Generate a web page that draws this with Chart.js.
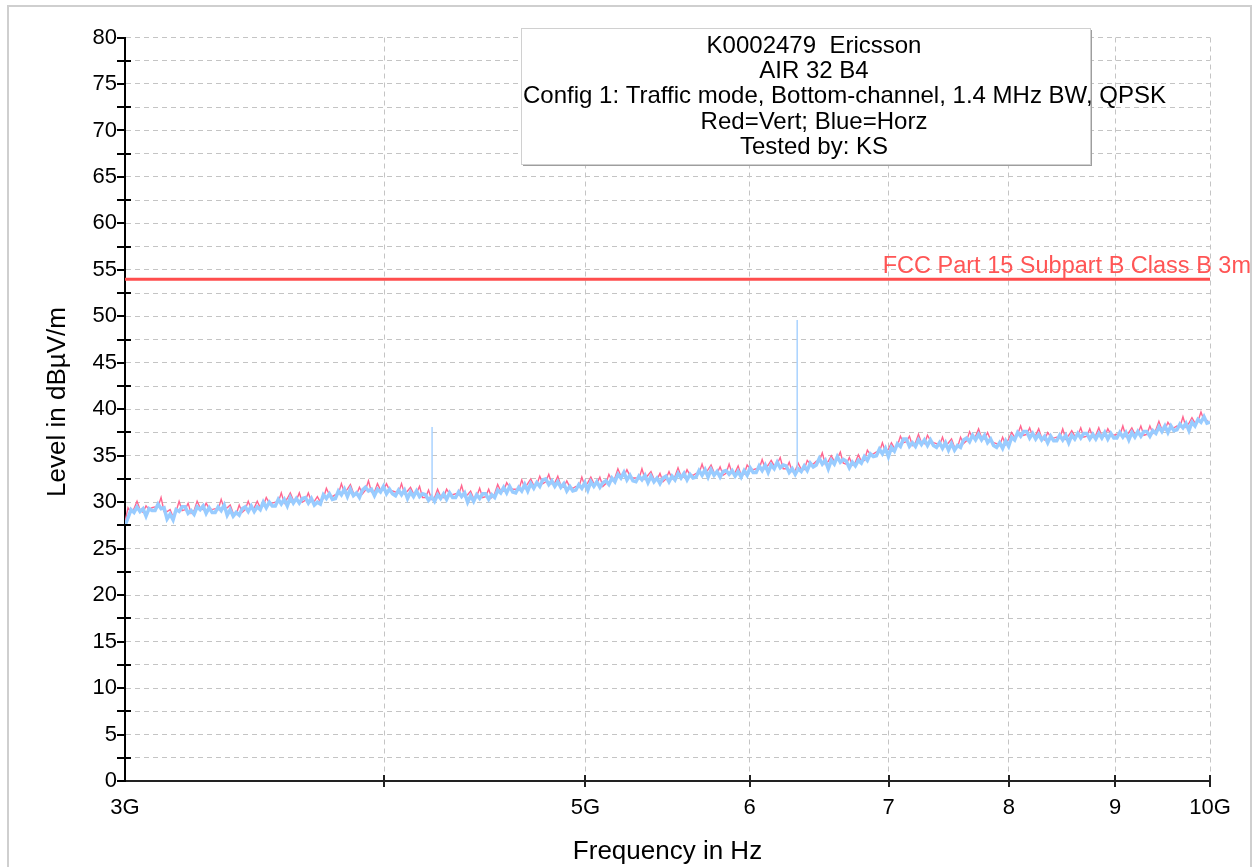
<!DOCTYPE html>
<html>
<head>
<meta charset="utf-8">
<script src="https://cdn.jsdelivr.net/npm/chart.js@4.4.0/dist/chart.umd.min.js"></script>
<style>
  html, body { margin: 0; padding: 0; background: #fff; overflow: hidden; }
  #wrap { position: relative; width: 1256px; height: 867px; }
  canvas { display: block; }
</style>
</head>
<body>
<div id="wrap"><canvas id="c" width="1256" height="867"></canvas></div>
<script>
// ---- chart content ----
const titleLines = [
  'K0002479  Ericsson',
  'AIR 32 B4',
  'Config 1: Traffic mode, Bottom-channel, 1.4 MHz BW, QPSK',
  'Red=Vert; Blue=Horz',
  'Tested by: KS'
];
const xAxisTitle = 'Frequency in Hz';
const yAxisTitle = 'Level in dBµV/m';

// x axis ticks (GHz) and their printed labels
const xTickGHz = [3, 4, 5, 6, 7, 8, 9, 10];
const xTickLabels = ['3G', '', '5G', '6', '7', '8', '9', '10G'];

// y axis: ticks every 2.5 dB, labels every 5 dB
const yMin = 0, yMax = 80, yStep = 2.5, yLabelEvery = 5;

// sweep span (log-spaced sweep points, GHz)
const sweepStartGHz = 3;
const sweepStopGHz = 10;

// vertical polarisation trace (dBµV/m)
const vertLevels = [
  27.9, 29.4, 28.9, 29.3, 30.1, 29.2, 28.9, 29.6, 29.2, 29.4,
  29.5, 29.5, 30.5, 29.0, 29.0, 29.2, 28.4, 29.0, 30.1, 29.1,
  29.2, 29.9, 28.8, 29.1, 30.1, 29.4, 29.2, 29.9, 29.3, 29.2,
  29.3, 29.2, 30.3, 29.3, 29.4, 29.7, 28.8, 28.7, 29.7, 28.9,
  29.2, 30.1, 29.3, 29.4, 30.1, 29.4, 29.6, 30.5, 29.9, 29.9,
  30.0, 30.0, 31.0, 29.9, 30.4, 31.0, 30.2, 30.2, 31.0, 30.0,
  30.2, 31.0, 30.1, 30.1, 30.6, 30.0, 30.4, 31.5, 30.8, 30.6,
  30.8, 30.9, 32.0, 31.0, 31.4, 31.9, 31.0, 30.8, 31.6, 30.9,
  31.3, 32.3, 31.1, 31.1, 32.0, 31.3, 31.3, 32.0, 31.3, 31.2,
  31.1, 31.0, 32.0, 30.9, 31.2, 31.6, 30.9, 31.0, 31.7, 30.5,
  30.5, 31.3, 30.3, 30.5, 31.4, 30.6, 30.5, 31.4, 30.9, 30.8,
  30.9, 30.8, 31.8, 30.6, 30.8, 31.2, 30.4, 30.6, 31.5, 30.5,
  30.6, 31.4, 30.5, 30.9, 31.9, 31.2, 31.2, 32.1, 31.6, 31.4,
  31.4, 31.3, 32.4, 31.5, 32.0, 32.5, 31.8, 31.9, 32.8, 32.0,
  32.2, 33.0, 32.0, 32.1, 32.8, 31.8, 31.6, 32.3, 31.6, 31.5,
  31.7, 31.6, 32.7, 31.7, 32.1, 32.7, 32.0, 32.0, 32.7, 31.7,
  32.0, 33.0, 32.3, 32.6, 33.6, 32.8, 32.8, 33.5, 32.8, 32.6,
  32.6, 32.5, 33.6, 32.5, 32.9, 33.3, 32.5, 32.4, 33.1, 32.2,
  32.5, 33.3, 32.5, 32.8, 33.7, 32.8, 32.7, 33.5, 32.9, 32.9,
  33.1, 33.1, 34.1, 33.1, 33.5, 34.0, 33.2, 33.1, 33.8, 32.9,
  33.1, 34.1, 33.1, 33.2, 33.9, 32.9, 33.0, 34.0, 33.6, 33.5,
  33.6, 33.6, 34.6, 33.6, 34.0, 34.5, 33.9, 34.1, 34.8, 33.6,
  33.6, 34.3, 33.3, 33.4, 34.2, 33.5, 33.5, 34.5, 34.1, 34.1,
  34.4, 34.4, 35.3, 34.1, 34.4, 35.0, 34.4, 34.7, 35.4, 34.2,
  34.1, 34.8, 34.0, 34.3, 35.1, 34.4, 34.5, 35.6, 35.1, 35.2,
  35.4, 35.4, 36.4, 35.4, 35.7, 36.4, 35.8, 36.1, 37.1, 36.4,
  36.5, 37.1, 36.1, 36.4, 37.3, 36.4, 36.3, 37.2, 36.6, 36.4,
  36.3, 36.1, 37.0, 36.0, 36.4, 36.8, 35.9, 35.9, 37.0, 36.3,
  36.6, 37.6, 36.9, 37.1, 37.9, 36.9, 36.8, 37.5, 36.7, 36.4,
  36.3, 36.1, 37.0, 36.2, 36.8, 37.5, 37.0, 37.3, 38.2, 37.2,
  37.3, 38.0, 37.1, 37.2, 37.9, 36.9, 36.7, 37.5, 37.0, 36.9,
  37.0, 36.9, 37.9, 36.8, 37.2, 37.7, 37.1, 37.2, 38.0, 37.0,
  37.1, 37.9, 37.0, 37.2, 38.0, 37.1, 37.1, 37.9, 37.3, 37.2,
  37.3, 37.2, 38.2, 37.1, 37.5, 38.0, 37.3, 37.4, 38.2, 37.2,
  37.3, 38.2, 37.4, 37.8, 38.7, 37.8, 37.8, 38.6, 38.1, 38.0,
  38.2, 38.1, 39.2, 38.1, 38.5, 39.1, 38.5, 38.7, 39.7, 38.8, 38.8, 38.5
];

// horizontal polarisation trace (dBµV/m)
const horzLevels = [
  27.5, 28.3, 29.2, 28.9, 29.5, 29.0, 29.3, 28.5, 29.3, 29.1,
  29.1, 29.8, 29.3, 29.4, 28.2, 28.7, 28.1, 29.2, 29.0, 29.5,
  29.5, 28.8, 29.1, 28.7, 29.5, 29.2, 29.6, 28.8, 29.4, 28.9,
  28.9, 29.5, 29.1, 29.7, 28.6, 29.2, 28.5, 28.9, 28.6, 29.3,
  29.5, 29.0, 29.6, 29.0, 29.5, 29.2, 30.0, 29.4, 30.0, 29.6,
  29.6, 30.3, 29.8, 30.3, 29.6, 30.5, 29.9, 30.4, 29.9, 30.4,
  30.5, 29.9, 30.4, 29.7, 30.0, 29.8, 30.8, 30.4, 30.9, 30.3,
  30.4, 31.2, 30.8, 31.4, 30.6, 31.4, 30.7, 31.0, 30.5, 31.3,
  31.6, 31.2, 31.4, 30.7, 31.4, 31.1, 31.7, 30.9, 31.4, 30.9,
  30.7, 31.3, 30.8, 31.3, 30.4, 31.1, 30.6, 31.2, 30.6, 30.9,
  30.8, 30.2, 30.6, 30.1, 30.8, 30.4, 30.9, 30.3, 31.0, 30.5,
  30.5, 31.1, 30.6, 31.0, 30.0, 30.7, 30.1, 30.8, 30.4, 30.9,
  30.9, 30.3, 30.8, 30.5, 31.3, 31.0, 31.6, 31.0, 31.7, 31.1,
  31.0, 31.6, 31.2, 31.9, 31.2, 32.0, 31.5, 32.1, 31.7, 32.4,
  32.5, 31.9, 32.3, 31.7, 32.2, 31.6, 32.0, 31.2, 31.7, 31.2,
  31.3, 31.9, 31.5, 32.1, 31.3, 32.2, 31.7, 32.2, 31.6, 32.1,
  32.3, 31.9, 32.6, 32.2, 33.0, 32.6, 33.2, 32.4, 32.9, 32.3,
  32.2, 32.8, 32.4, 32.9, 32.1, 32.8, 32.2, 32.6, 32.0, 32.6,
  32.8, 32.2, 32.8, 32.4, 33.1, 32.6, 33.1, 32.4, 33.0, 32.6,
  32.7, 33.4, 32.9, 33.5, 32.7, 33.5, 32.9, 33.3, 32.7, 33.3,
  33.4, 33.0, 33.4, 32.8, 33.3, 32.7, 33.4, 32.9, 33.7, 33.2,
  33.2, 33.9, 33.4, 34.0, 33.2, 34.0, 33.6, 34.3, 33.7, 34.0,
  33.9, 33.2, 33.6, 33.0, 33.6, 33.3, 33.9, 33.4, 34.2, 33.8,
  34.0, 34.7, 34.1, 34.5, 33.6, 34.5, 34.1, 34.9, 34.3, 34.6,
  34.4, 33.7, 34.3, 33.9, 34.5, 34.2, 34.9, 34.5, 35.2, 34.9,
  35.0, 35.7, 35.2, 35.8, 34.9, 35.9, 35.5, 36.3, 36.0, 36.8,
  36.8, 36.0, 36.4, 36.0, 36.7, 36.2, 36.7, 36.1, 36.7, 36.1,
  35.9, 36.4, 35.8, 36.4, 35.6, 36.3, 35.6, 36.1, 35.9, 36.7,
  36.9, 36.5, 37.2, 36.7, 37.3, 36.7, 37.2, 36.4, 36.8, 36.1,
  35.9, 36.4, 35.8, 36.6, 36.0, 37.0, 36.7, 37.5, 37.1, 37.6,
  37.6, 36.9, 37.4, 36.8, 37.3, 36.7, 37.1, 36.4, 37.1, 36.6,
  36.6, 37.2, 36.7, 37.2, 36.4, 37.2, 36.8, 37.4, 36.9, 37.4,
  37.4, 36.8, 37.3, 36.8, 37.4, 36.9, 37.5, 36.8, 37.4, 36.9,
  36.9, 37.5, 37.0, 37.5, 36.7, 37.5, 37.0, 37.6, 37.1, 37.6,
  37.6, 37.1, 37.7, 37.4, 38.1, 37.6, 38.2, 37.5, 38.2, 37.7,
  37.8, 38.4, 38.0, 38.5, 37.7, 38.6, 38.2, 38.9, 38.6, 39.2, 38.5, 38.6
];

// narrow spurs on the horizontal trace
const spurGHz = [4.218, 6.325];
const spurBase = [30.4, 33.3];
const spurPeak = [38.1, 49.6];

// limit line
const limitLevel = 54;
const limitLabel = 'FCC Part 15 Subpart B Class B 3m';

// ---- styling ----
const FONT = "'Liberation Sans', Arial, sans-serif";
const VERT_COLOR = '#ff6690';
const HORZ_COLOR = '#99ccff';
const SPUR_COLOR = '#a9d3ff';
const LIMIT_COLOR = '#ff4d4d';
const GRID_COLOR = '#c4c4c4';
const GRID_DASH = [5, 4];

// ---- build datasets ----
const GHZ = 1e9;
function sweepFreq(i, n) {
  return sweepStartGHz * Math.pow(sweepStopGHz / sweepStartGHz, i / (n - 1)) * GHZ;
}
const vertData = vertLevels.map((v, i) => ({ x: sweepFreq(i, vertLevels.length), y: v }));
const horzData = horzLevels.map((v, i) => ({ x: sweepFreq(i, horzLevels.length), y: v }));
const spurData = [];
spurGHz.forEach((f, i) => {
  spurData.push({ x: f * GHZ, y: spurBase[i] });
  spurData.push({ x: f * GHZ, y: spurPeak[i] });
  spurData.push({ x: f * GHZ, y: null });
});
const limitData = [
  { x: xTickGHz[0] * GHZ, y: limitLevel },
  { x: xTickGHz[xTickGHz.length - 1] * GHZ, y: limitLevel }
];

// ---- frame, tick marks, axis title, limit label and header box ----
const decor = {
  id: 'decor',
  beforeDraw(chart) {
    const ctx = chart.ctx;
    ctx.save();
    ctx.fillStyle = '#fff';
    ctx.fillRect(0, 0, chart.width, chart.height);
    ctx.strokeStyle = '#cfcfcf';
    ctx.lineWidth = 2;
    ctx.strokeRect(8, 6, 1243, 900);
    ctx.restore();
  },
  afterDraw(chart) {
    const { ctx, chartArea: ca, scales: { x, y } } = chart;
    ctx.save();

    // y tick marks: major to the left, minor across the axis
    ctx.strokeStyle = '#000';
    ctx.lineWidth = 2;
    for (const t of y.ticks) {
      const py = Math.round(y.getPixelForValue(t.value));
      const major = Math.abs(t.value % yLabelEvery) < 1e-6;
      ctx.beginPath();
      ctx.moveTo(ca.left - 8, py);
      ctx.lineTo(major ? ca.left : ca.left + 6, py);
      ctx.stroke();
    }
    // x tick marks across the axis
    ctx.strokeStyle = '#222';
    for (const t of x.ticks) {
      if (t.value <= xTickGHz[0] * GHZ) continue;
      const px = Math.round(x.getPixelForValue(t.value));
      ctx.beginPath();
      ctx.moveTo(px, ca.bottom - 6);
      ctx.lineTo(px, ca.bottom + 6);
      ctx.stroke();
    }

    // y axis title
    ctx.save();
    ctx.translate(58, 402);
    ctx.rotate(-Math.PI / 2);
    ctx.font = '26px ' + FONT;
    ctx.fillStyle = '#000';
    ctx.textAlign = 'center';
    ctx.textBaseline = 'middle';
    ctx.fillText(yAxisTitle, 0, 0);
    ctx.restore();

    // limit label
    const ly = y.getPixelForValue(limitLevel);
    ctx.font = '23.5px ' + FONT;
    ctx.fillStyle = '#ff5555';
    ctx.textAlign = 'right';
    ctx.textBaseline = 'alphabetic';
    ctx.fillText(limitLabel, 1251, ly - 6);

    // header box
    const bx = 521, by = 28, bw = 569, bh = 136;
    ctx.fillStyle = '#fff';
    ctx.fillRect(bx, by, bw, bh);
    ctx.strokeStyle = '#9e9e9e';
    ctx.lineWidth = 2;
    ctx.beginPath();
    ctx.moveTo(bx + 2, by + bh + 1);
    ctx.lineTo(bx + bw + 1, by + bh + 1);
    ctx.lineTo(bx + bw + 1, by + 2);
    ctx.stroke();
    ctx.strokeStyle = '#d0d0d0';
    ctx.lineWidth = 1;
    ctx.strokeRect(bx + 0.5, by + 0.5, bw, bh);

    ctx.fillStyle = '#000';
    ctx.font = '24px ' + FONT;
    ctx.textBaseline = 'middle';
    const cx = 814;
    titleLines.forEach((line, k) => {
      const ty = by + 18 + k * 25.4;
      const w = ctx.measureText(line).width;
      if (w > bw - 4) {
        ctx.textAlign = 'left';
        ctx.fillText(line, bx + 2, ty);
      } else {
        ctx.textAlign = 'center';
        ctx.fillText(line, cx, ty);
      }
    });
    ctx.restore();
  }
};

new Chart(document.getElementById('c'), {
  type: 'line',
  data: {
    datasets: [
      { label: 'Limit', data: limitData, borderColor: LIMIT_COLOR, borderWidth: 3, pointRadius: 0 },
      { label: 'Spurs', data: spurData, borderColor: SPUR_COLOR, borderWidth: 1.5, pointRadius: 0, spanGaps: false },
      { label: 'Horz', data: horzData, borderColor: HORZ_COLOR, borderWidth: 3.5, pointRadius: 0 },
      { label: 'Vert', data: vertData, borderColor: VERT_COLOR, borderWidth: 1.4, pointRadius: 0 }
    ]
  },
  options: {
    responsive: false,
    animation: false,
    events: [],
    layout: { padding: { top: 37.5, right: 46, bottom: 0, left: 0 } },
    elements: { line: { tension: 0, fill: false } },
    plugins: { legend: { display: false }, tooltip: { enabled: false }, title: { display: false } },
    scales: {
      x: {
        type: 'logarithmic',
        min: xTickGHz[0] * GHZ,
        max: xTickGHz[xTickGHz.length - 1] * GHZ,
        afterBuildTicks(scale) {
          scale.ticks = xTickGHz.map(v => ({ value: v * GHZ }));
        },
        afterFit(scale) { scale.height = 86; },
        ticks: {
          autoSkip: false,
          maxRotation: 0,
          padding: 14,
          color: '#000',
          font: { family: FONT, size: 22 },
          callback: (value, index) => xTickLabels[index]
        },
        grid: { color: GRID_COLOR, lineWidth: 1, drawTicks: false },
        border: { display: true, color: '#222', width: 2, dash: GRID_DASH },
        title: {
          display: true,
          text: xAxisTitle,
          color: '#000',
          font: { family: FONT, size: 26 },
          padding: { top: 0, bottom: 0 }
        }
      },
      y: {
        type: 'linear',
        min: yMin,
        max: yMax,
        afterFit(scale) { scale.width = 125; },
        ticks: {
          stepSize: yStep,
          autoSkip: false,
          padding: 8,
          color: '#000',
          font: { family: FONT, size: 22 },
          callback: v => (Math.abs(v % yLabelEvery) < 1e-6 ? String(v) : '')
        },
        grid: { color: GRID_COLOR, lineWidth: 1, drawTicks: false },
        border: { display: true, color: '#000', width: 2, dash: GRID_DASH },
        title: { display: false }
      }
    }
  },
  plugins: [decor]
});
</script>
</body>
</html>
